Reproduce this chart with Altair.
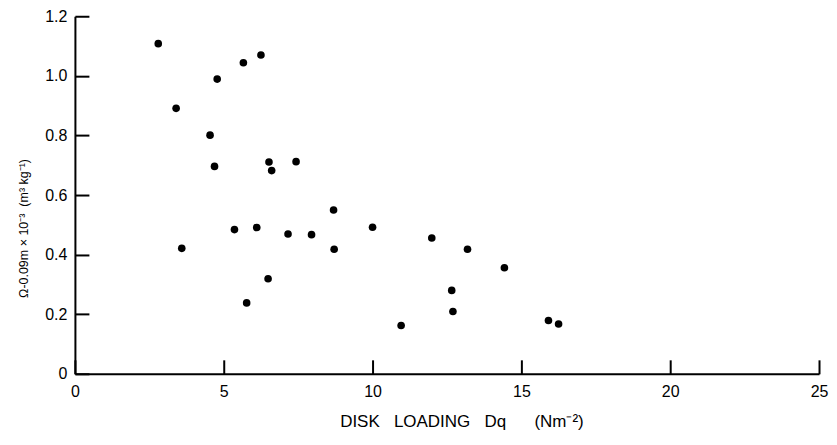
import altair as alt
import pandas as pd

disk_loading = [2.80, 3.40, 4.78, 5.66, 6.25, 4.54, 4.69, 6.52, 6.61, 7.43,
                3.59, 5.36, 6.11, 7.16, 7.95, 8.69, 8.71, 10.0, 5.77, 6.49,
                10.96, 11.99, 12.66, 12.70, 13.19, 14.43, 15.91, 16.25]
omega = [1.108, 0.891, 0.989, 1.044, 1.07, 0.801, 0.696, 0.711, 0.682, 0.712,
         0.421, 0.484, 0.491, 0.469, 0.467, 0.55, 0.418, 0.492, 0.238, 0.319,
         0.162, 0.456, 0.28, 0.209, 0.418, 0.356, 0.179, 0.167]
x_labels = [0, 5, 10, 15, 20, 25]
y_labels = [0, 0.2, 0.4, 0.6, 0.8, 1.0, 1.2]

W, H = 745, 358
FONT = "Liberation Sans"
NB = "\u00a0"
TICK = 14  # inward tick length in px

df = pd.DataFrame({"x": disk_loading, "y": omega})

xscale = alt.Scale(domain=[0, 25], nice=False, zero=False)
yscale = alt.Scale(domain=[0, 1.2], nice=False, zero=False)

x_title = "DISK" + NB * 3 + "LOADING" + NB * 3 + "Dq" + NB * 6 + "(Nm⁻²)"
y_title = "Ω-0.09m × 10⁻³" + NB * 2 + "(m³ kg⁻¹)"

points = alt.Chart(df).mark_circle(size=58, color="black", opacity=1).encode(
    x=alt.X("x:Q", scale=xscale,
            axis=alt.Axis(title=x_title, values=x_labels,
                          ticks=True, tickSize=alt.ExprRef(expr=f"-{TICK}"),
                          tickColor="black", tickWidth=2, tickOpacity=1,
                          grid=False, labelPadding=10 + TICK, titlePadding=14,
                          domainColor="black", domainWidth=2,
                          labelFont=FONT, labelFontSize=16, labelColor="black",
                          titleFont=FONT, titleFontSize=17, titleFontWeight="normal",
                          titleColor="black", labelFlush=False, titleX=387)),
    y=alt.Y("y:Q", scale=yscale,
            axis=alt.Axis(title=y_title, values=y_labels,
                          labelExpr="datum.value == 0 ? '0' : format(datum.value, '.1f')",
                          ticks=True, tickSize=alt.ExprRef(expr=f"-{TICK}"),
                          tickColor="black", tickWidth=2, tickOpacity=1,
                          grid=False, labelPadding=8 + TICK, titlePadding=14,
                          domainColor="black", domainWidth=2,
                          labelFont=FONT, labelFontSize=16, labelColor="black",
                          titleFont=FONT, titleFontSize=12.5, titleFontWeight="normal",
                          titleColor="black", labelFlush=False, titleY=212)),
)

chart = points.properties(
    width=W, height=H,
    autosize=alt.AutoSizeParams(type="none"),
    padding={"left": 67, "top": 8, "right": 10, "bottom": 60},
    background="white",
).configure_view(strokeWidth=0)

chart.save("out.html", embed_options={"renderer": "svg", "actions": False})
